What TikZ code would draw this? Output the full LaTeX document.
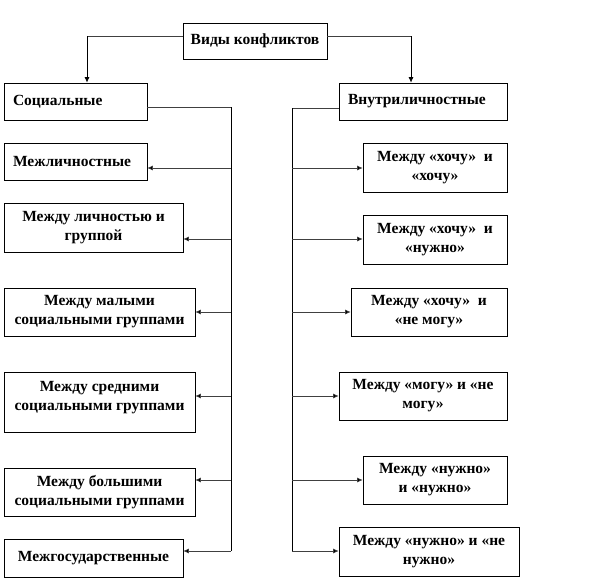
\documentclass[tikz,border=0pt]{standalone}
\usepackage{fontspec}
\setmainfont{Liberation Serif}
\usetikzlibrary{arrows.meta}
\newcommand\mybox[7]{%
  \pgfmathsetmacro\myW{#4-#2}\pgfmathsetmacro\myH{#5-#3}%
  \pgfmathsetmacro\myX{(#2+#4)/2}\pgfmathsetmacro\myY{(#3+#5)/2}%
  \node[box,minimum width=\myW pt,minimum height=\myH pt,align=center,#6] (#1) at (\myX,\myY) {#7};}
\newcommand\myleftbox[6]{%
  \pgfmathsetmacro\myW{#4-#2}\pgfmathsetmacro\myH{#5-#3}\pgfmathsetmacro\myTW{#4-#2-18}%
  \pgfmathsetmacro\myX{(#2+#4)/2}\pgfmathsetmacro\myY{(#3+#5)/2}%
  \node[box,minimum width=\myW pt,minimum height=\myH pt,text width=\myTW pt,align=left] (#1) at (\myX,\myY) {#6};}
\begin{document}
\begin{tikzpicture}[x=1pt,y=-1pt,
  box/.style={draw=black,line width=0.7pt,fill=white,inner sep=0pt,
    font=\bfseries\fontsize{15.5}{19}\selectfont},
  vline/.style={line width=0.8pt,black},
  hline/.style={line width=0.6pt,black!75},
  tip/.style={-{Latex[length=5.5pt,width=5pt,fill=black]}}]
\useasboundingbox[fill=white] (0,0) rectangle (615,579);

% top
\mybox{top}{183}{23}{327}{59}{}{Виды конфликтов}
\myleftbox{soc}{4}{83}{147}{120}{Социальные}
\myleftbox{inn}{339}{83}{507}{120}{Внутриличностные}

% left column
\myleftbox{l1}{4}{143}{147}{180}{Межличностные}
\mybox{l2}{4}{203}{183}{252}{}{Между личностью и\\группой}
\mybox{l3}{4}{288}{195}{336}{}{Между малыми\\социальными группами}
\mybox{l4}{4}{372}{195}{432}{text depth=13pt}{Между средними\\социальными группами}
\mybox{l5}{4}{468}{195}{516}{}{Между большими\\социальными группами}
\mybox{l6}{4}{539}{183}{577}{}{Межгосударственные}

% right column
\mybox{r1}{363}{143}{507}{192}{}{Между «хочу»\ \ и\\«хочу»}
\mybox{r2}{363}{215}{507}{264}{}{Между «хочу»\ \ и\\«нужно»}
\mybox{r3}{351}{288}{507}{336}{}{Между «хочу»\ \ и\\«не могу»}
\mybox{r4}{339}{372}{507}{420}{}{Между «могу» и «не\\могу»}
\mybox{r5}{363}{456}{507}{504}{}{Между «нужно»\\и «нужно»}
\mybox{r6}{339}{527}{519}{576}{}{Между «нужно» и «не\\нужно»}

% top connectors
\coordinate (tl) at (87,36);
\coordinate (tr) at (411,36);
\draw[hline] (top.west |- tl) -- (tl);
\draw[hline] (top.east |- tr) -- (tr);
\draw[vline,tip] (tl) -- (tl |- soc.north);
\draw[vline,tip] (tr) -- (tr |- inn.north);

% trunks
\coordinate (lt) at (231,107);
\coordinate (lb) at (231,551);
\coordinate (rt) at (292,108);
\coordinate (rb) at (292,551);
\draw[hline] (soc.east |- lt) -- (lt);
\draw[hline] (inn.west |- rt) -- (rt);
\draw[vline] (lt) -- (lb);
\draw[vline] (rt) -- (rb);

% left branches
\foreach \n/\y in {l1/168,l2/239,l3/312,l4/396,l5/480,l6/551}{
  \coordinate (a\n) at (231,\y);
  \draw[hline,tip] (a\n) -- (a\n -| \n.east);
}
% right branches
\foreach \n/\y in {r1/168,r2/239,r3/312,r4/396,r5/480,r6/551}{
  \coordinate (a\n) at (292,\y);
  \draw[hline,tip] (a\n) -- (a\n -| \n.west);
}
\end{tikzpicture}
\end{document}
